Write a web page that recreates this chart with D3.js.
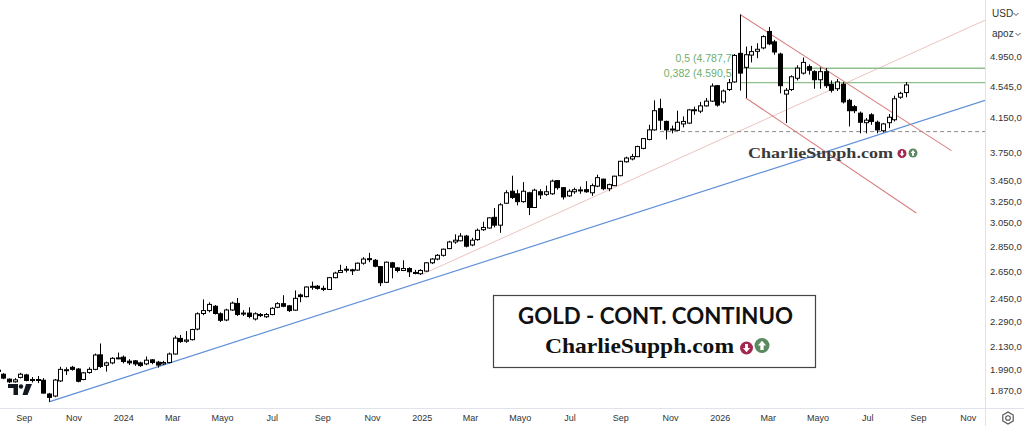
<!DOCTYPE html>
<html><head><meta charset="utf-8">
<script src="https://cdn.jsdelivr.net/npm/d3@7"></script>
<style>body{margin:0;background:#fff}svg{display:block}</style>
</head><body>
<svg id="c" width="1024" height="426"></svg>
<script>
// ---------- DATA ----------
const firstWeek = "2023-07-31"; // weekly candles, one per Monday
const open = [
1985,1962,1934,1919,1944,1958,1928,1932,1928,1852,
1841,1924,1984,2002,1992,1932,1972,1990,2076,2014,
2028,2055,2062,2038,2040,2028,2022,2046,2032,2022,
2030,2081,2178,2160,2170,2238,2342,2362,2392,2340,
2298,2366,2412,2338,2345,2305,2335,2320,2335,2385,
2410,2395,2365,2472,2460,2530,2536,2520,2512,2600,
2640,2665,2660,2658,2712,2748,2735,2685,2565,2715,
2675,2655,2670,2640,2630,2650,2715,2745,2775,2830,
2885,2895,2935,2860,2905,2990,3005,3100,3030,3230,
3345,3320,3245,3330,3190,3340,3315,3320,3450,3380,
3300,3340,3355,3360,3330,3395,3465,3370,3400,3500,
3645,3675,3700,3790,3890,4000,4255,4100,4005,3995,
4070,4080,4238,4225,4290,4350,4550,4340,4500,4600,
5000,4800,4975,5030,5080,5330,5170,4990,4440,4500,
4650,4720,4810,4740,4630,4740,4570,4510,4570,4360,
4280,4200,4085,4180,4090,3990,4085,4120,4400,4460];
const high = [
1992,1968,1938,1940,1970,1964,1946,1952,1940,1858,
1935,2005,2002,2010,1998,1975,2002,2084,2146,2035,
2062,2090,2072,2050,2045,2035,2066,2050,2040,2040,
2090,2195,2200,2225,2240,2350,2440,2420,2400,2350,
2375,2425,2450,2365,2385,2350,2345,2345,2385,2420,
2470,2400,2505,2482,2535,2570,2545,2540,2605,2645,
2700,2690,2668,2718,2760,2795,2745,2690,2725,2722,
2682,2735,2680,2660,2665,2720,2752,2785,2830,2895,
2950,2960,2945,2920,3000,3060,3100,3185,3230,3355,
3500,3360,3435,3340,3370,3365,3400,3460,3455,3385,
3365,3380,3390,3445,3420,3510,3470,3420,3500,3655,
3700,3730,3820,3905,4060,4360,4380,4110,4050,4230,
4160,4250,4280,4340,4390,4580,4560,4500,4640,4990,
5600,5100,5110,5150,5270,5400,5200,5010,4520,4690,
4830,4940,4840,4760,4800,4790,4620,4640,4600,4380,
4300,4220,4140,4200,4110,4080,4190,4420,4470,4600];
const low = [
1972,1934,1912,1914,1938,1922,1915,1912,1855,1810,
1835,1918,1958,1983,1916,1928,1965,1985,1998,1977,
2020,2050,2025,2015,2010,2005,2015,2020,2000,2015,
2025,2078,2150,2150,2165,2230,2330,2350,2335,2285,
2290,2360,2325,2325,2310,2295,2318,2312,2330,2378,
2385,2352,2360,2420,2455,2510,2510,2500,2508,2595,
2635,2640,2620,2652,2700,2720,2680,2537,2560,2595,
2640,2650,2605,2625,2620,2645,2705,2735,2765,2825,
2870,2890,2840,2850,2895,2980,3000,3010,2963,3225,
3270,3210,3235,3120,3185,3270,3300,3310,3360,3265,
3290,3320,3320,3330,3300,3385,3355,3345,3395,3495,
3635,3660,3695,3780,3880,3990,4000,3890,3960,3990,
4030,4070,4180,4200,4280,4340,4280,4320,4480,4590,
4485,4390,4870,4930,5060,5120,4980,4450,4080,4480,
4620,4700,4700,4510,4510,4520,4460,4480,4320,4040,
4200,3960,3960,4060,3960,3970,4020,4100,4380,4400];
const close = [
1978,1940,1919,1930,1962,1927,1932,1928,1857,1834,
1929,1990,1988,1990,1922,1970,1990,2075,2007,2028,
2055,2058,2036,2028,2022,2012,2044,2030,2015,2030,
2081,2180,2158,2168,2235,2340,2362,2405,2342,2296,
2366,2414,2335,2345,2322,2340,2328,2335,2378,2410,
2392,2362,2448,2460,2530,2535,2520,2515,2600,2635,
2655,2662,2658,2712,2745,2745,2688,2562,2720,2680,
2655,2670,2645,2637,2655,2715,2745,2775,2825,2885,
2900,2935,2850,2900,2985,3010,3095,3030,3215,3330,
3285,3245,3345,3190,3355,3310,3340,3445,3380,3290,
3345,3360,3358,3340,3400,3480,3370,3410,3495,3650,
3685,3700,3810,3900,4000,4230,4115,4000,4010,4090,
4100,4240,4242,4290,4350,4545,4300,4480,4590,4970,
4720,4980,5025,5060,5250,5140,5020,4550,4490,4670,
4790,4870,4760,4630,4740,4550,4490,4600,4340,4230,
4230,4090,4115,4100,4000,4070,4150,4380,4450,4560];

const priceTicks = [4950,4545,4150,3750,3450,3250,3050,2850,2650,2450,2290,2130,1990,1870];
const monthTicks = ["2023-09-01","2023-11-01","2024-01-01","2024-03-01","2024-05-01","2024-07-01","2024-09-01","2024-11-01",
  "2025-01-01","2025-03-01","2025-05-01","2025-07-01","2025-09-01","2025-11-01","2026-01-01","2026-03-01","2026-05-01",
  "2026-07-01","2026-09-01","2026-11-01"];
const monthLabels = ["Sep","Nov","2024","Mar","Mayo","Jul","Sep","Nov","2025","Mar","Mayo","Jul","Sep","Nov","2026","Mar","Mayo","Jul","Sep","Nov"];
const fibRatios = ["0,5","0,382"];
const fibValues = [4787.7, 4590.5];
const fibStart = "2026-01-26";
const supportValue = 3980, supportStart = "2025-10-20";
const blueTrend = [["2023-10-02",1810],["2026-07-20",3960]];
const pinkTrend = [["2025-01-02",2627],["2026-01-28",3998]];
const channelUpper = [["2026-01-26",5600],["2026-10-12",3765]];
const channelLower = [["2026-02-02",4390],["2026-08-30",3140]];

// ---------- SCALES ----------
const parse = d3.timeParse("%Y-%m-%d");
const svg = d3.select("#c");
const W = 1024, H = 426, plotR = 985, plotB = 408;
const x = d3.scaleTime().domain([parse("2023-08-07"), parse("2026-08-17")]).range([3.3, 905.7]);
const y = d3.scaleLog().domain([1870, 4950]).range([390.7, 56.8]);
const fmt = v => d3.format(",.1f")(v).replace(/,/g,"#").replace(".",",").replace(/#/g,".");

const t0 = parse(firstWeek);
const bars = open.map((o,i)=>({d:d3.timeDay.offset(t0, 7*i), o, h:high[i], l:low[i], c:close[i]}));

svg.append("rect").attr("width",W).attr("height",H).attr("fill","#fff");
svg.append("defs").append("clipPath").attr("id","clip").append("rect")
  .attr("x",0).attr("y",0).attr("width",plotR).attr("height",plotB);
const plot = svg.append("g").attr("clip-path","url(#clip)");

const P = ([ds,v]) => [x(parse(ds)), y(v)];
function extended(a, b, xEnd){
  const p1=P(a), p2=P(b); const s=(p2[1]-p1[1])/(p2[0]-p1[0]);
  return [p1, [xEnd, p1[1]+s*(xEnd-p1[0])]];
}
const line = d3.line();

// trend lines
plot.append("path").attr("d", line(extended(pinkTrend[0],pinkTrend[1],plotR)))
  .attr("stroke","#ecc4bf").attr("stroke-width",1).attr("fill","none");
plot.append("path").attr("d", line(extended(blueTrend[0],blueTrend[1],plotR)))
  .attr("stroke","#5f8fd8").attr("stroke-width",1.2).attr("fill","none");

// support dashed line
plot.append("line").attr("x1",x(parse(supportStart))).attr("x2",plotR)
  .attr("y1",y(supportValue)).attr("y2",y(supportValue))
  .attr("stroke","#8a8a8a").attr("stroke-dasharray","4,3").attr("stroke-width",1);

// fib levels
fibValues.forEach((v,k)=>{
  plot.append("line").attr("x1",x(parse(fibStart))).attr("x2",plotR)
    .attr("y1",y(v)).attr("y2",y(v)).attr("stroke","#8fbf8c").attr("stroke-width",1.3);
  plot.append("text").attr("x",735).attr("y",y(v)-6)
    .attr("text-anchor","end").attr("font-family","Liberation Sans, Arial, sans-serif")
    .attr("font-size",10.5).attr("fill","#6fae6c")
    .text(`${fibRatios[k]} (${fmt(v)})`);
});

// channel
[channelUpper, channelLower].forEach(c=>{
  plot.append("path").attr("d", line([P(c[0]),P(c[1])]))
    .attr("stroke","#d98080").attr("stroke-width",1.1).attr("fill","none");
});

// candles
const cg = plot.append("g");
bars.forEach(b=>{
  const cx = Math.round(x(b.d)) + 0.5;
  cg.append("line").attr("x1",cx).attr("x2",cx).attr("y1",y(b.h)).attr("y2",y(b.l))
    .attr("stroke","#000").attr("stroke-width",1);
  const up = b.c >= b.o;
  const yt = y(Math.max(b.o,b.c)), yb = y(Math.min(b.o,b.c));
  cg.append("rect").attr("x",cx-2).attr("width",4)
    .attr("y",yt).attr("height",Math.max(1,yb-yt))
    .attr("fill", up ? "#fff" : "#000").attr("stroke","#000").attr("stroke-width",1);
});

// watermark in chart
function icons(g, cx1, cy1, r1, cx2, cy2, r2){
  g.append("circle").attr("cx",cx1).attr("cy",cy1).attr("r",r1).attr("fill","#a3284f");
  g.append("path").attr("d",`M${cx1},${cy1+r1*0.65} L${cx1-r1*0.55},${cy1} L${cx1-r1*0.22},${cy1} L${cx1-r1*0.22},${cy1-r1*0.6} L${cx1+r1*0.22},${cy1-r1*0.6} L${cx1+r1*0.22},${cy1} L${cx1+r1*0.55},${cy1} Z`).attr("fill","#fff");
  g.append("circle").attr("cx",cx2).attr("cy",cy2).attr("r",r2).attr("fill","#5b8a60");
  g.append("path").attr("d",`M${cx2},${cy2-r2*0.65} L${cx2-r2*0.55},${cy2} L${cx2-r2*0.22},${cy2} L${cx2-r2*0.22},${cy2+r2*0.6} L${cx2+r2*0.22},${cy2+r2*0.6} L${cx2+r2*0.22},${cy2} L${cx2+r2*0.55},${cy2} Z`).attr("fill","#fff");
}
const wm = svg.append("g");
wm.append("text").attr("x",748).attr("y",158).attr("textLength",145).attr("lengthAdjust","spacingAndGlyphs")
  .attr("font-family","Liberation Serif, serif").attr("font-weight","bold").attr("font-size",15)
  .attr("fill","#3a3a3a").text("CharlieSupph.com");
icons(wm, 902, 153.5, 4.5, 913, 153, 4.5);

// title box
const bx = svg.append("g");
bx.append("rect").attr("x",493.5).attr("y",295.5).attr("width",322).attr("height",72)
  .attr("fill","#fff").attr("stroke","#444").attr("stroke-width",1.2);
bx.append("text").attr("x",518).attr("y",324).attr("textLength",275).attr("lengthAdjust","spacingAndGlyphs")
  .attr("font-family","Lato, Open Sans, sans-serif").attr("font-weight","bold").attr("font-size",22)
  .attr("fill","#111").text("GOLD - CONT. CONTINUO");
bx.append("text").attr("x",545).attr("y",353).attr("textLength",189).attr("lengthAdjust","spacingAndGlyphs")
  .attr("font-family","Liberation Serif, serif").attr("font-weight","bold").attr("font-size",21)
  .attr("fill","#111").text("CharlieSupph.com");
icons(bx, 746.5, 348, 6.5, 762, 345.5, 7.5);

// axes frame
svg.append("line").attr("x1",plotR+0.5).attr("x2",plotR+0.5).attr("y1",0).attr("y2",H).attr("stroke","#e0e3eb");
svg.append("line").attr("x1",0).attr("x2",W).attr("y1",plotB+0.5).attr("y2",plotB+0.5).attr("stroke","#e0e3eb");

// right price axis
const ya = svg.append("g").attr("transform",`translate(${plotR+4},0)`)
  .call(d3.axisRight(y).tickValues(priceTicks).tickFormat(fmt).tickSize(0).tickPadding(1));
ya.select(".domain").remove();
ya.selectAll("text").attr("font-family","Liberation Sans, Arial, sans-serif").attr("font-size",9.5).attr("fill","#333");

// bottom time axis
const xa = svg.append("g").attr("transform",`translate(0,${plotB+7})`)
  .call(d3.axisBottom(x).tickValues(monthTicks.map(parse)).tickFormat((d,i)=>monthLabels[i]).tickSize(0).tickPadding(0));
xa.select(".domain").remove();
xa.selectAll("text").attr("font-family","Liberation Sans, Arial, sans-serif").attr("font-size",9).attr("fill","#333");

// currency / unit selectors
[["USD",13],["apoz",33]].forEach(([t,yy])=>{
  svg.append("rect").attr("x",987).attr("y",yy-9).attr("width",36).attr("height",17).attr("fill","#fff");
  svg.append("text").attr("x",992).attr("y",yy+4).attr("font-family","Liberation Sans, Arial, sans-serif")
    .attr("font-size",10).attr("fill","#333").text(t);
  const cx = t==="USD"?1016:1018;
  svg.append("path").attr("d",`M${cx-2.5},${yy} L${cx},${yy+2.5} L${cx+2.5},${yy}`).attr("stroke","#555").attr("fill","none").attr("stroke-width",1);
});

// settings gear
const gx=1008, gy=418;
svg.append("path").attr("d", d3.line()(d3.range(6).map(k=>[gx+6*Math.cos(Math.PI/3*k+Math.PI/6), gy+6*Math.sin(Math.PI/3*k+Math.PI/6)]))+"Z")
  .attr("fill","none").attr("stroke","#555").attr("stroke-width",1.2);
svg.append("circle").attr("cx",gx).attr("cy",gy).attr("r",2.3).attr("fill","none").attr("stroke","#555").attr("stroke-width",1.1);

// TradingView logo
const tv = svg.append("g").attr("fill","#131722");
tv.append("path").attr("d","M8,384 H18 V395 H13.5 V388 H8 Z");
tv.append("circle").attr("cx",21).attr("cy",386.5).attr("r",2.2);
tv.append("path").attr("d","M26,384 H32 L27.5,395 H22.5 Z");
</script>
</body></html>
